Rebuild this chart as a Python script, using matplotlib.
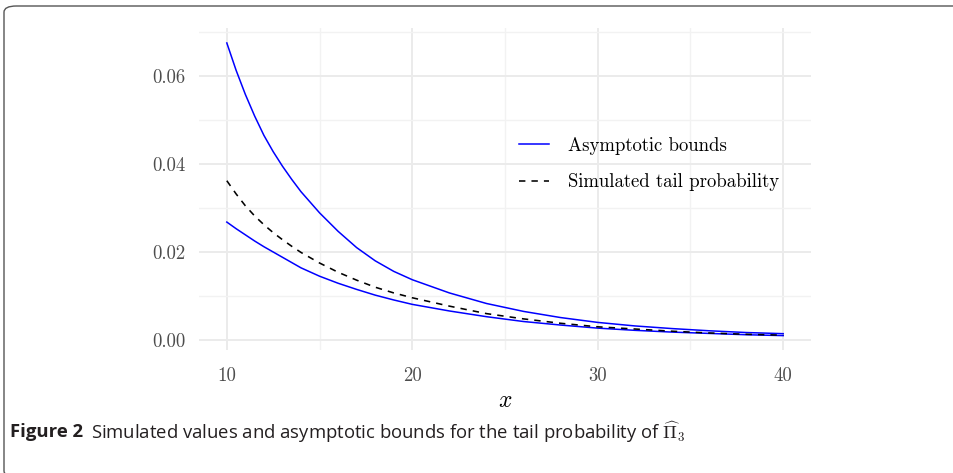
import matplotlib
matplotlib.use('Agg')
import matplotlib.pyplot as plt
from matplotlib.patches import FancyBboxPatch

# values
x_vals = [10, 10.5, 11, 11.5, 12, 12.5, 13, 13.5, 14, 15, 16, 17, 18, 19, 20,
          22, 24, 26, 28, 30, 32, 34, 36, 38, 40]
upper_bound = [0.0675, 0.0613, 0.0558, 0.0509, 0.0465, 0.0428, 0.0395, 0.0365, 0.0337,
               0.0289, 0.0247, 0.0210, 0.0180, 0.0156, 0.0137,
               0.0107, 0.0083, 0.0065, 0.0051, 0.0040, 0.0032, 0.0026, 0.0021, 0.0017, 0.00144]
lower_bound = [0.0268, 0.0253, 0.0239, 0.0225, 0.0212, 0.0200, 0.0188, 0.0176, 0.0164,
               0.0145, 0.0129, 0.0115, 0.0102, 0.0091, 0.0081,
               0.0066, 0.0053, 0.0042, 0.0034, 0.0027, 0.0022, 0.0018, 0.0015, 0.0012, 0.0010]
simulated = [0.0362, 0.0332, 0.0305, 0.0282, 0.0262, 0.0244, 0.0228, 0.0213, 0.0199,
             0.0175, 0.0154, 0.0136, 0.0120, 0.0107, 0.0096,
             0.0077, 0.0060, 0.0048, 0.0038, 0.0030, 0.0025, 0.0020, 0.0016, 0.0013, 0.0011]

x_ticks = [10, 20, 30, 40]
y_ticks = [0.00, 0.02, 0.04, 0.06]
x_minor = [15, 25, 35]
y_minor = [0.01, 0.03, 0.05, 0.07]

plt.rcParams['mathtext.fontset'] = 'cm'
plt.rcParams['font.family'] = ['cmr10', 'DejaVu Serif']
plt.rcParams['axes.formatter.use_mathtext'] = True

fig = plt.figure(figsize=(9.54, 4.73), dpi=100)

# rounded frame, right and bottom sides fall just outside the picture
box = FancyBboxPatch((4/954, 1 - 477/473), 970/954, 471/473,
                     boxstyle='round,pad=0,rounding_size=0.013',
                     transform=fig.transFigure, fill=False,
                     edgecolor='#555555', linewidth=1.0)
fig.patches.append(box)

ax = fig.add_axes([199/954, 1 - 350/473, 612/954, 322/473])

ax.plot(x_vals, upper_bound, color='#0000FF', lw=1.1, label='Asymptotic bounds')
ax.plot(x_vals, lower_bound, color='#0000FF', lw=1.1)
ax.plot(x_vals, simulated, color='black', lw=1.15, dashes=(4, 3.8), label='Simulated tail probability')

ax.set_xlim(8.5, 41.5)
ax.set_ylim(-0.00227, 0.0709)
ax.set_xticks(x_ticks)
ax.set_xticklabels([str(t) for t in x_ticks])
ax.set_yticks(y_ticks)
ax.set_yticklabels(['%.2f' % t for t in y_ticks])
ax.set_xticks(x_minor, minor=True)
ax.set_yticks(y_minor, minor=True)

ax.grid(True, which='major', color='#EBEBEB', lw=1.4)
ax.grid(True, which='minor', color='#F2F2F2', lw=1.0)
ax.set_axisbelow(True)
for s in ax.spines.values():
    s.set_visible(False)
ax.tick_params(which='both', length=0, labelsize=13.5, labelcolor='#4D4D4D')
ax.tick_params(axis='y', pad=10)
ax.tick_params(axis='x', pad=12)

ax.set_xlabel('$x$', fontsize=17, labelpad=4)

# only one blue entry in the legend
handles, labels = ax.get_legend_handles_labels()
ax.legend(handles, labels, loc='center left', bbox_to_anchor=(0.523, 0.578),
          frameon=False, fontsize=13.5, handlelength=1.6, handletextpad=1.0,
          labelspacing=1.0, borderpad=0, borderaxespad=0)

# caption, bold part then regular part
cap_y = 1 - 432/473
t1 = fig.text(10/954, cap_y, 'Figure 2', fontsize=13.3, fontweight='bold',
              family=['Open Sans', 'DejaVu Sans'], va='center', color='#231F20')
fig.canvas.draw()
bb = t1.get_window_extent(renderer=fig.canvas.get_renderer())
fig.text((bb.x1 + 8) / 954, cap_y,
         r'Simulated values and asymptotic bounds for the tail probability of $\widehat{\Pi}_3$',
         fontsize=13.3, family=['Open Sans', 'DejaVu Sans'], va='center', color='#231F20')

fig.savefig('out.png', dpi=100)
